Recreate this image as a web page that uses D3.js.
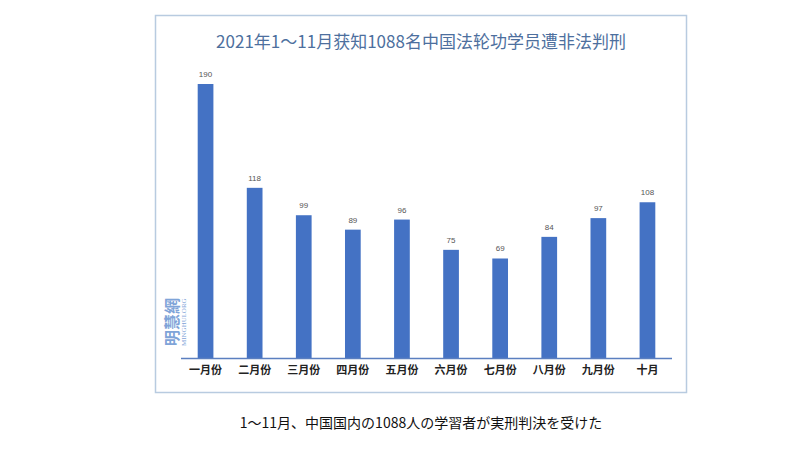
<!DOCTYPE html>
<html><head><meta charset="utf-8">
<script src="https://cdn.jsdelivr.net/npm/d3@7"></script>
<style>body{margin:0;background:#fff}</style>
</head><body>
<script>
const months = ['一月份','二月份','三月份','四月份','五月份','六月份','七月份','八月份','九月份','十月'];
const counts = [190, 118, 99, 89, 96, 75, 69, 84, 97, 108];
const title = '2021年1～11月获知1088名中国法轮功学员遭非法判刑';
const caption = '1～11月、中国国内の1088人の学習者が実刑判決を受けた';

const svg = d3.select('body').append('svg').attr('width', 800).attr('height', 450);

svg.append('rect').attr('x', 155.5).attr('y', 15.5).attr('width', 531).attr('height', 377)
  .attr('fill', '#fff').attr('stroke', '#b8cbe0').attr('stroke-width', 1.5);

svg.append('text').text(title).attr('x', 421).attr('y', 48).attr('text-anchor', 'middle')
  .style('font-family', '"Noto Sans CJK SC", sans-serif').style('font-size', '17px')
  .attr('fill', '#4d6f9e');

let x = d3.scaleBand().domain(months).range([181, 672]).paddingInner(0.68).paddingOuter(0.34);
let y = d3.scaleLinear().domain([0, 190]).range([358, 84]);

svg.selectAll('rect.bar').data(counts).join('rect').attr('class', 'bar')
  .attr('x', (d, i) => x(months[i])).attr('width', x.bandwidth())
  .attr('y', d => y(d)).attr('height', d => y(0) - y(d)).attr('fill', '#4472c4');

svg.selectAll('text.val').data(counts).join('text').attr('class', 'val')
  .text(d => d).attr('x', (d, i) => x(months[i]) + x.bandwidth() / 2).attr('y', d => y(d) - 7)
  .attr('text-anchor', 'middle').style('font-family', '"Liberation Sans", sans-serif')
  .style('font-size', '8px').attr('fill', '#555');

svg.append('line').attr('x1', 181).attr('x2', 672).attr('y1', 358.5).attr('y2', 358.5)
  .attr('stroke', '#5b7fc0').attr('stroke-width', 1.5);

svg.selectAll('text.cat').data(months).join('text').attr('class', 'cat')
  .text(d => d).attr('x', d => x(d) + x.bandwidth() / 2).attr('y', 374)
  .attr('text-anchor', 'middle').style('font-family', '"Noto Sans CJK SC", serif')
  .style('font-weight', 'bold').style('font-size', '11px').attr('fill', '#222');

// watermark
let wm = svg.append('g').attr('transform', 'translate(178,346) rotate(-90)');
wm.append('text').text('明慧網').attr('x', 0).attr('y', 0)
  .style('font-family', '"Noto Sans CJK TC", sans-serif').style('font-weight', 'bold')
  .style('font-size', '16px').attr('fill', '#7fa4d8');
wm.append('text').text('MINGHUI.ORG').attr('x', 0).attr('y', 8)
  .style('font-family', '"Liberation Serif", serif').style('font-size', '7px').attr('fill', '#7fa4d8');

svg.append('text').text(caption).attr('x', 421).attr('y', 428).attr('text-anchor', 'middle')
  .style('font-family', '"Noto Sans CJK JP", serif').style('font-size', '14px').attr('fill', '#111');
</script>
</body></html>
